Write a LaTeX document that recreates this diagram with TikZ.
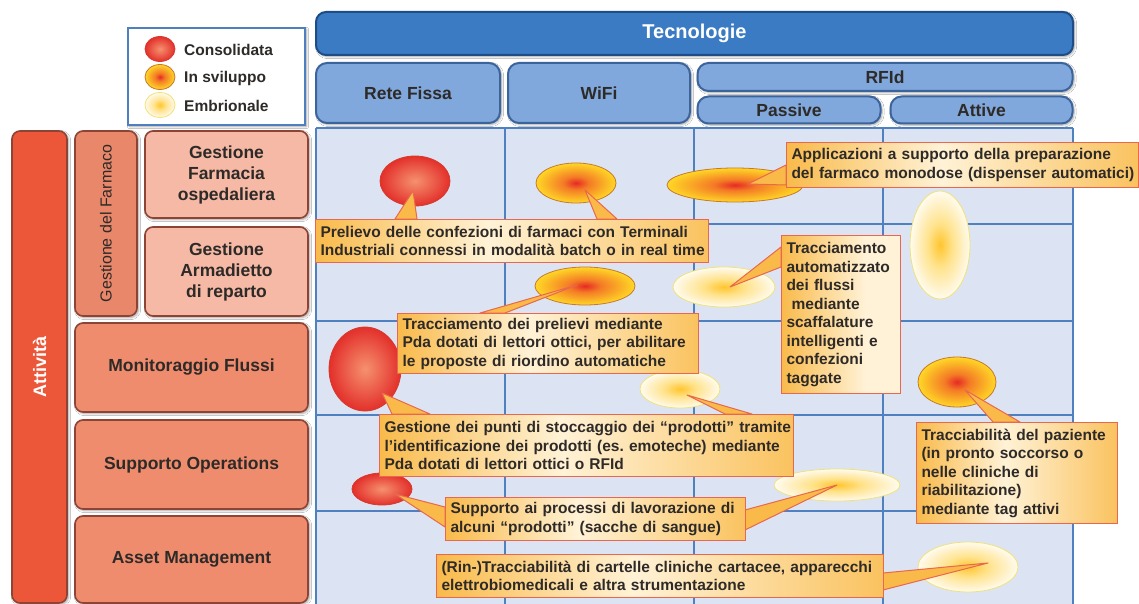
\documentclass[tikz,border=0pt]{standalone}
\usepackage{fontspec}
\setmainfont{Liberation Sans}
\usetikzlibrary{shapes.geometric,calc,shadows.blur}
\frenchspacing

% palette
\definecolor{hdrdark}{HTML}{3A7BC3}
\definecolor{hdrdarkline}{HTML}{1E4C86}
\definecolor{hdrlight}{HTML}{80A8DC}
\definecolor{hdrlightline}{HTML}{3C649C}
\definecolor{gridfill}{HTML}{DCE4F3}
\definecolor{gridline}{HTML}{4F80C0}
\definecolor{actred}{HTML}{EC573A}
\definecolor{actsalmon}{HTML}{EF8C6E}
\definecolor{actmid}{HTML}{E9876B}
\definecolor{actpink}{HTML}{F5B9A5}
\definecolor{actedge}{HTML}{8E4434}
\definecolor{txt}{HTML}{2E2A28}
\definecolor{callline}{HTML}{E8674E}
\definecolor{callorange}{HTML}{F9BA4A}
\definecolor{calllight}{HTML}{FFF2D6}
\definecolor{legline}{HTML}{4F7FBF}
% maturity blobs
\definecolor{consin}{HTML}{F5916F}
\definecolor{consout}{HTML}{E3302A}
\definecolor{consline}{HTML}{D63A2E}
\definecolor{devin}{HTML}{E62A25}
\definecolor{devmid}{HTML}{F47B26}
\definecolor{devout}{HTML}{FFD726}
\definecolor{devline}{HTML}{C9772C}
\definecolor{embin}{HTML}{FFC52E}
\definecolor{embmid}{HTML}{FFE28A}
\definecolor{embout}{HTML}{FFFBEE}
\definecolor{embline}{HTML}{F0E27A}

\pgfdeclareradialshading{consshade}{\pgfpoint{0bp}{0bp}}{color(0bp)=(consin); color(25bp)=(consout); color(50bp)=(consout)}
\pgfdeclareradialshading{devshade}{\pgfpoint{0bp}{0bp}}{color(0bp)=(devin); color(8bp)=(devmid); color(25bp)=(devout); color(50bp)=(devout)}
\pgfdeclareradialshading{embshade}{\pgfpoint{0bp}{0bp}}{color(0bp)=(embin); color(10bp)=(embmid); color(25bp)=(embout); color(50bp)=(embout)}
% callout fill: orange at the sides, pale in the middle
\pgfdeclarehorizontalshading{callshade}{100bp}{color(0bp)=(callorange); color(25bp)=(callorange); color(47bp)=(calllight); color(75bp)=(callorange!85!calllight); color(100bp)=(callorange!85!calllight)}
\pgfdeclarehorizontalshading{callshadeR}{100bp}{color(0bp)=(callorange); color(25bp)=(callorange); color(60bp)=(calllight); color(75bp)=(calllight); color(100bp)=(calllight)}

\newcommand{\cfont}{\fontsize{15.5}{18.5}\selectfont\bfseries}
\newcommand{\hfont}{\fontsize{17.5}{21}\selectfont\bfseries}
\newcommand{\lfont}{\fontsize{17.5}{21}\selectfont\bfseries}

\tikzset{
  blob/.style={ellipse, inner sep=0pt, line width=0.8pt, shade},
  cons/.style={blob, shading=consshade, draw=consline},
  dev/.style={blob, shading=devshade, draw=devline},
  emb/.style={blob, shading=embshade, draw=embline},
  callout/.style={draw=callline, line width=1pt, shade, shading=callshade,
    anchor=north west, inner xsep=5pt, inner ysep=2pt, align=left,
    font=\cfont, text=txt},
  wedge/.style={fill=callorange, draw=callline, line width=1pt, line join=round},
  gridln/.style={draw=gridline, line width=2pt},
  softshadow/.style={blur shadow={shadow blur steps=6, shadow xshift=1.5pt,
    shadow yshift=-1.5pt, shadow opacity=35}},
  hdrtop/.style={rounded corners=10pt, fill=hdrdark, draw=hdrdarkline,
    line width=2pt, softshadow, font=\fontsize{20}{24}\selectfont\bfseries, text=white},
  hdr/.style={rounded corners=11pt, fill=hdrlight, draw=hdrlightline,
    line width=2pt, softshadow, font=\hfont, text=txt},
  actbox/.style={rounded corners=8pt, fill=actsalmon, draw=actedge,
    line width=1.6pt, softshadow, font=\lfont, text=txt, align=center},
  legtext/.style={anchor=west, font=\cfont, text=txt, inner sep=0pt}
}

\begin{document}
\begin{tikzpicture}[x=1pt,y=-1pt]
\useasboundingbox (0,0) rectangle (1139,604);
\fill[white] (0,0) rectangle (1139,604);

% ---- technology / activity matrix
\fill[gridfill] (316,128) rectangle (1073,615);
\foreach \gx in {316,505,694,883,1073} \draw[gridln] (\gx,128) -- (\gx,615);
\foreach \gy in {128,224,321,415,511} \draw[gridln] (316,\gy) -- (1073,\gy);

% ---- maturity blobs
\node[cons, minimum width=70,  minimum height=50]  (b1)  at (415,181) {};
\node[dev,  minimum width=80,  minimum height=40]  (b2)  at (576,183) {};
\node[dev,  minimum width=136, minimum height=34]  (b3)  at (735,185) {};
\node[emb,  minimum width=60,  minimum height=108] (b4)  at (940,245) {};
\node[dev,  minimum width=100, minimum height=38]  (b5)  at (585,286) {};
\node[emb,  minimum width=102, minimum height=40]  (b6)  at (724,287) {};
\node[cons, minimum width=72,  minimum height=84]  (b7)  at (365,369) {};
\node[emb,  minimum width=80,  minimum height=38]  (b8)  at (680,389) {};
\node[dev,  minimum width=78,  minimum height=50]  (b9)  at (957,382) {};
\node[cons, minimum width=60,  minimum height=32]  (b10) at (382,489) {};
\node[emb,  minimum width=126, minimum height=32]  (b11) at (837,485) {};
\node[emb,  minimum width=100, minimum height=50]  (b12) at (968,567) {};

% ---- callout frames: top-left and top-right corners
\coordinate (cAnw) at (315,219);
\coordinate (cBnw) at (786,142);
\coordinate (cCnw) at (781,235);
\coordinate (cDnw) at (397,313);
\coordinate (cEnw) at (379,414);
\coordinate (cFnw) at (445,497);
\coordinate (cFne) at (745,497);
\coordinate (cGnw) at (436,554);
\coordinate (cGne) at (883,554);
\coordinate (cHnw) at (916,422);

% ---- callout pointers (drawn below the frames)
\path[wedge] ($(cAnw)+(80,0)$) -- ($(b1.center)+(-2,10)$) -- ($(cAnw)+(102,0)$) -- cycle;
\path[wedge] ($(cAnw)+(282,0)$) -- ($(b2.center)+(9,7)$) -- ($(cAnw)+(302,0)$) -- cycle;
\path[wedge] ($(cBnw)+(0,23)$) -- ($(b3.center)+(13,-1)$) -- ($(cBnw)+(0,43)$) -- cycle;
\path[wedge] ($(cCnw)+(0,12)$) -- ($(b6.center)+(6,0)$) -- ($(cCnw)+(0,32)$) -- cycle;
\path[wedge] ($(cDnw)+(83,0)$) -- ($(b5.center)+(-8,-1)$) -- ($(cDnw)+(108,0)$) -- cycle;
\path[wedge] ($(cEnw)+(13,0)$) -- ($(b7.center)+(17,24)$) -- ($(cEnw)+(51,0)$) -- cycle;
\path[wedge] ($(cEnw)+(346,0)$) -- ($(b8.center)+(7,6)$) -- ($(cEnw)+(373,0)$) -- cycle;
\path[wedge] ($(cFnw)+(0,10)$) -- ($(b10.center)+(13,5)$) -- ($(cFnw)+(0,30)$) -- cycle;
\path[wedge] ($(cFne)+(0,13)$) -- (b11.center) -- ($(cFne)+(0,33)$) -- cycle;
\path[wedge] ($(cGne)+(0,19)$) -- ($(b12.center)+(20,-4)$) -- ($(cGne)+(0,36)$) -- cycle;
\path[wedge] ($(cHnw)+(77,0)$) -- ($(b9.center)+(8,8)$) -- ($(cHnw)+(104,0)$) -- cycle;

% ---- callouts
\node[callout, text width=383, minimum height=43] (cA) at (cAnw)
  {\mbox{Prelievo delle confezioni di farmaci con Terminali}\\
   \mbox{Industriali connessi in modalità batch o in real time}};
\node[callout, text width=342, minimum height=45] (cB) at (cBnw)
  {\mbox{Applicazioni a supporto della preparazione}\\
   \mbox{del farmaco monodose (dispenser automatici)}};
\node[callout, shading=callshadeR, text width=109, minimum height=158] (cC) at (cCnw)
  {Tracciamento\\\mbox{automatizzato}\\dei flussi\\\ mediante\\scaffalature\\
   intelligenti e\\confezioni\\taggate};
\node[callout, text width=291, minimum height=60] (cD) at (cDnw)
  {\mbox{Tracciamento dei prelievi mediante}\\
   \mbox{Pda dotati di lettori ottici, per abilitare}\\
   \mbox{le proposte di riordino automatiche}};
\node[callout, text width=404, minimum height=62] (cE) at (cEnw)
  {\mbox{Gestione dei punti di stoccaggio dei “prodotti” tramite}\\
   \mbox{l’identificazione dei prodotti (es. emoteche) mediante}\\
   \mbox{Pda dotati di lettori ottici o RFId}};
\node[callout, text width=290, minimum height=43] (cF) at (cFnw)
  {\mbox{Supporto ai processi di lavorazione di}\\
   \mbox{alcuni “prodotti” (sacche di sangue)}};
\node[callout, text width=437, minimum height=43] (cG) at (cGnw)
  {\mbox{(Rin-)Tracciabilità di cartelle cliniche cartacee, apparecchi}\\
   \mbox{elettrobiomedicali e altra strumentazione}};
\node[callout, text width=191, minimum height=101] (cH) at (cHnw)
  {Tracciabilità del paziente\\(in pronto soccorso o\\nelle cliniche di\\
   riabilitazione)\\mediante tag attivi};

% ---- column headers
\node[hdrtop, minimum width=757, minimum height=43] (tec) at (694.5,33.5) {Tecnologie};
\node[hdr, minimum width=184, minimum height=60] (rete) at (408,93) {Rete Fissa};
\node[hdr, minimum width=182, minimum height=60] (wifi) at (599,93) {WiFi};
\node[hdr, minimum width=375, minimum height=28] (rfid) at (885,77) {RFId};
\node[hdr, minimum width=183, minimum height=27] (pass) at (789,110) {Passive};
\node[hdr, minimum width=182, minimum height=27] (attv) at (981.5,110) {Attive};

% ---- legend
\node[draw=legline, line width=2.5pt, fill=white, softshadow,
      minimum width=177, minimum height=97] (leg) at (216.5,76.5) {};
\node[cons, minimum width=30, minimum height=25] (lg1) at (160,49) {};
\node[dev,  minimum width=30, minimum height=25] (lg2) at (160,77) {};
\node[emb,  minimum width=30, minimum height=25] (lg3) at (160,105) {};
\node[legtext] (lt1) at (184,50) {Consolidata};
\node[legtext] (lt2) at (184,78) {In sviluppo};
\node[legtext] (lt3) at (184,106) {Embrionale};

% ---- activity rows
\node[actbox, fill=actred, rotate=90, minimum width=472, minimum height=55,
      text=white, font=\fontsize{18}{21}\selectfont\bfseries] (att) at (39.5,367) {Attività};
\node[actbox, fill=actmid, rotate=90, minimum width=185, minimum height=62,
      font=\fontsize{16}{19}\selectfont] (gdf) at (106,223.5) {Gestione del Farmaco};
\node[actbox, fill=actpink, minimum width=163, minimum height=87] (gfo) at (226.5,174.5)
      {Gestione\\Farmacia\\ospedaliera};
\node[actbox, fill=actpink, minimum width=163, minimum height=89] (gar) at (226.5,271.5)
      {Gestione\\Armadietto\\di reparto};
\node[actbox, minimum width=233, minimum height=89] (mfl) at (191.5,367.5) {Monitoraggio Flussi};
\node[actbox, minimum width=233, minimum height=89] (sop) at (191.5,464.5) {Supporto Operations};
\node[actbox, minimum width=233, minimum height=87] (asm) at (191.5,559.5) {Asset Management};
\end{tikzpicture}
\end{document}
